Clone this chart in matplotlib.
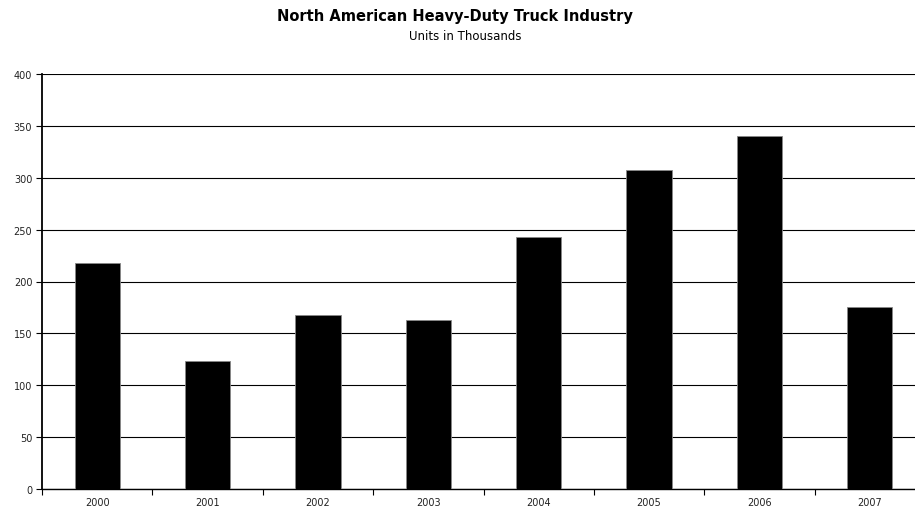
import matplotlib.pyplot as plt
import numpy as np

plt.rcParams["font.family"] = ["DejaVu Sans"]

years = ["2000", "2001", "2002", "2003", "2004", "2005", "2006", "2007"]
units = [218, 123, 168, 163, 243, 307, 340, 175]
y_ticks = [0, 50, 100, 150, 200, 250, 300, 350, 400]

W, H = 915, 510
fig = plt.figure(figsize=(W / 100, H / 100), dpi=100)
# plot area runs a little past the right edge of the canvas
ax = fig.add_axes([42 / W, 20 / H, 883 / W, 415 / H])

x = np.arange(len(years))
ax.bar(x, units, width=0.41, color="black", edgecolor="#888888", linewidth=0.6, zorder=3)

ax.set_xlim(-0.5, len(years) - 0.5)
ax.set_ylim(0, 400)
ax.set_yticks(y_ticks)
ax.set_yticklabels([str(v) for v in y_ticks], fontsize=7, color="#222222")
ax.yaxis.grid(True, color="black", linewidth=0.8, zorder=0)

# category labels centred, tick marks on the boundaries
ax.set_xticks(x)
ax.set_xticklabels(years, fontsize=7, color="#222222")
ax.tick_params(axis="x", length=0, pad=6)
ax.set_xticks(np.arange(-0.5, len(years)), minor=True)
ax.tick_params(axis="x", which="minor", length=4, width=0.8, direction="out", color="black")
ax.tick_params(axis="y", length=4, width=0.8, direction="out", pad=3, color="black")

for side in ["top", "right"]:
    ax.spines[side].set_visible(False)
ax.spines["left"].set_linewidth(1.3)
ax.spines["bottom"].set_linewidth(1.0)

fig.text(455 / W, 1 - 17 / H, "North American Heavy-Duty Truck Industry",
         ha="center", va="center", fontsize=10.5, fontweight="bold")
fig.text(465 / W, 1 - 37 / H, "Units in Thousands",
         ha="center", va="center", fontsize=8.5)

fig.savefig("out.png", dpi=100, facecolor="white")
